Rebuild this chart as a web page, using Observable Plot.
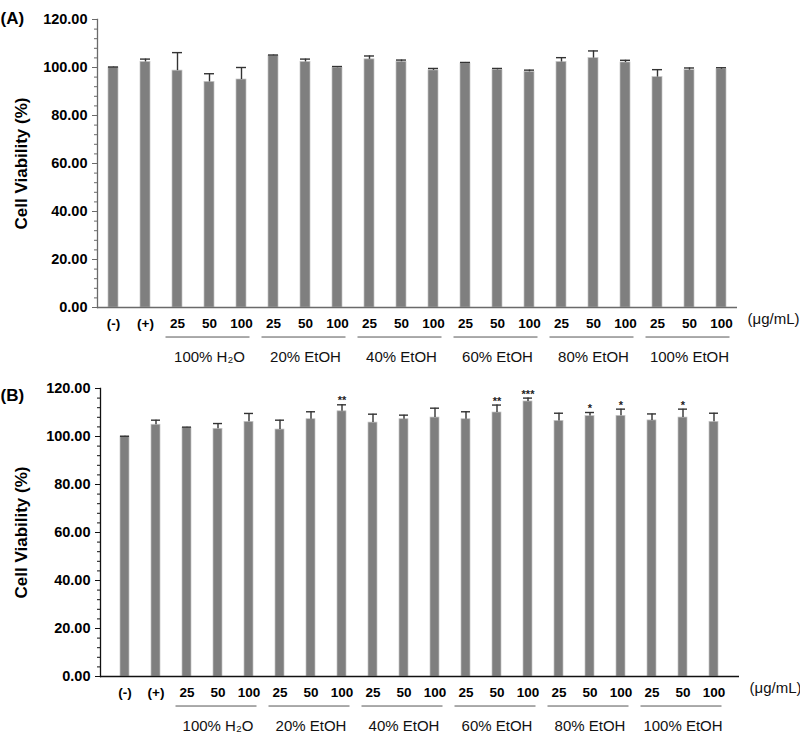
<!DOCTYPE html>
<html><head><meta charset="utf-8">
<script src="https://cdn.jsdelivr.net/npm/d3@7"></script>
<script src="https://cdn.jsdelivr.net/npm/@observablehq/plot@0.6"></script>
<style>
body{margin:0;background:#fff;font-family:"Liberation Sans",Arial,sans-serif}
#chart svg{display:block}
</style>
</head><body><div id="chart"></div>
<script>
// ---- data ----
const keys = ["neg","pos",
  "H2O-25","H2O-50","H2O-100",
  "E20-25","E20-50","E20-100",
  "E40-25","E40-50","E40-100",
  "E60-25","E60-50","E60-100",
  "E80-25","E80-50","E80-100",
  "E100-25","E100-50","E100-100"];
const tickLabels = ["(-)","(+)","25","50","100","25","50","100","25","50","100","25","50","100","25","50","100","25","50","100"];
const groupNames = ["100% H₂O","20% EtOH","40% EtOH","60% EtOH","80% EtOH","100% EtOH"];
const groupFirst = ["H2O-25","E20-25","E40-25","E60-25","E80-25","E100-25"];
const groupMid   = ["H2O-50","E20-50","E40-50","E60-50","E80-50","E100-50"];
const groupLast  = ["H2O-100","E20-100","E40-100","E60-100","E80-100","E100-100"];
const unitLabel = "(μg/mL)";
const yLabel = "Cell Viability (%)";
const yTicks = [0,20,40,60,80,100,120];
const yMinorTicks = d3.range(0, 121, 4);

const meansA = [100.0,102.3,98.7,94.0,95.0,104.9,102.3,99.9,103.4,102.4,98.8,101.7,99.0,98.2,102.3,103.9,102.1,96.0,98.9,99.3];
const errA   = [0.2,1.2,7.5,3.4,5.0,0.3,1.2,0.5,1.4,0.7,0.8,0.4,0.6,0.7,1.8,3.0,0.9,3.1,0.9,0.6];
const starsA = ["","","","","","","","","","","","","","","","","","","",""];

const meansB = [100.0,104.9,103.6,103.2,106.1,102.9,107.2,110.5,105.8,107.2,107.9,107.2,110.0,114.6,106.5,108.5,108.6,106.7,107.9,106.1];
const errB   = [0.1,1.9,0.3,2.2,3.5,3.9,3.1,2.7,3.5,1.7,3.9,3.1,3.1,1.4,3.2,1.5,2.8,2.7,3.5,3.6];
const starsB = ["","","","","","","","**","","","","","**","***","","*","*","","*",""];

// ---- drawing ----
function panel(letter, means, errs, stars, o) {
  const data = keys.map((k, i) => ({key: k, value: means[i], err: errs[i], star: stars[i]}));
  const groups = groupNames.map((g, i) => ({name: g, first: groupFirst[i], mid: groupMid[i], last: groupLast[i]}));
  return Plot.plot({
    width: 800,
    height: o.height,
    marginTop: o.mt, marginBottom: o.mb, marginLeft: o.ml, marginRight: o.mr,
    style: {fontFamily: "'Liberation Sans', Arial, sans-serif", fontSize: "13px", color: "#000", background: "#fff", overflow: "visible"},
    x: {type: "band", domain: keys, paddingInner: 0.7, paddingOuter: 0.35},
    y: {domain: [0, 120]},
    marks: [
      Plot.axisY({ticks: yMinorTicks, tickSize: 3, tickFormat: () => "", label: null, stroke: o.axisColor}),
      Plot.axisY({ticks: yTicks, tickSize: 5, tickPadding: 5, tickFormat: d => d.toFixed(2), label: null,
        fontWeight: "bold", fontSize: 14.5, stroke: o.axisColor}),
      Plot.axisX({tickSize: 0, tickPadding: 11, tickFormat: d => tickLabels[keys.indexOf(d)], label: null,
        fontWeight: "bold", fontSize: 13.5}),
      Plot.barY(data, {x: "key", y: "value", fill: "#7f7f7f", stroke: "#c4c4c4", strokeWidth: 0.7}),
      Plot.ruleX(data, {x: "key", y1: "value", y2: d => d.value + d.err, stroke: "#333", strokeWidth: 1.4}),
      Plot.tickY(data, {x: "key", y: d => d.value + d.err, stroke: "#333", strokeWidth: 1.4}),
      Plot.text(data.filter(d => d.star), {x: "key", y: d => d.value + d.err, text: "star", dy: -4,
        fontSize: 11, fontWeight: "bold", fill: "#222"}),
      Plot.frame({anchor: "left", stroke: o.axisColor, strokeWidth: 1.3}),
      Plot.ruleY([0], {stroke: o.axisColor, strokeWidth: 1.5}),
      Plot.ruleY(groups, {x1: "first", x2: "last", y: -12.3, insetLeft: -6.5, insetRight: -3.5, stroke: "#555", strokeWidth: 1}),
      Plot.text(groups, {x: "mid", y: -20.6, text: "name", fontSize: 15, fill: "#111"}),
      Plot.text([unitLabel], {frameAnchor: "bottom-right", dx: 10, dy: 16, textAnchor: "start", fontSize: 15, fill: "#111"}),
      Plot.text([yLabel], {frameAnchor: "left", dx: o.labelX - o.ml, textAnchor: "middle", rotate: -90, fontSize: 17, fontWeight: "bold"}),
      Plot.text([letter], {frameAnchor: "top-left", dx: -o.ml, dy: o.letterY - o.mt, textAnchor: "start", fontSize: 17, fontWeight: "bold"})
    ]
  });
}

const chart = document.getElementById("chart");
chart.append(panel("(A)", meansA, errA, starsA, {height: 367, mt: 19, mb: 60, ml: 97, mr: 63, axisColor: "#6a6a6a", labelX: 21, letterY: 11}));
chart.append(panel("(B)", meansB, errB, starsB, {height: 367, mt: 21, mb: 58, ml: 100, mr: 61, axisColor: "#111", labelX: 21, letterY: 21}));
</script>
</body></html>
